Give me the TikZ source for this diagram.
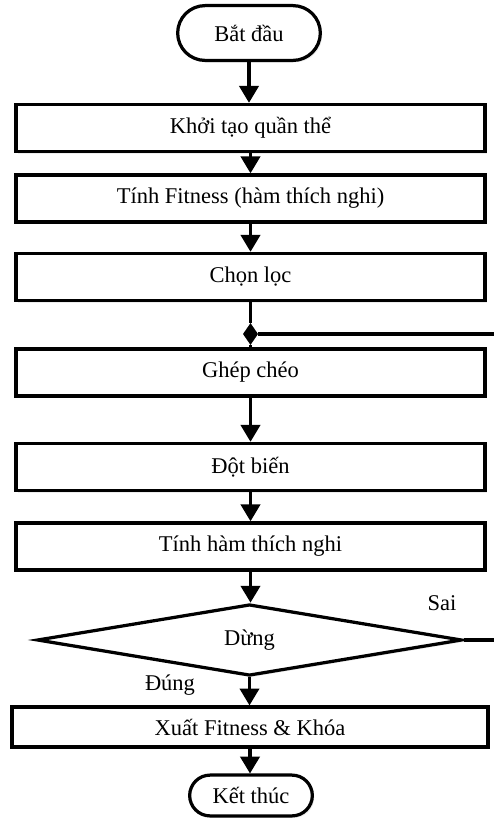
\documentclass[tikz,border=0pt]{standalone}
\usepackage{fontspec}
\setmainfont{Liberation Serif}
\usetikzlibrary{shapes,positioning,arrows.meta,shadows}

\tikzset{
  bong/.style={drop shadow={shadow xshift=1.4pt, shadow yshift=-1.4pt, opacity=0.15}},
  buoc/.style={draw, line width=2.3pt, fill=white, bong, minimum width=11.72cm, minimum height=1.18cm},
  tron/.style={draw, line width=2.3pt, fill=white, bong, rounded rectangle},
  hoi/.style={draw, line width=2.3pt, fill=white, bong, diamond, inner sep=0pt, minimum width=10.62cm, minimum height=1.75cm},
  muiten/.style={-{Triangle[length=4.2mm,width=4.8mm]}, line width=2.3pt},
  duong/.style={line width=2.3pt},
  moc/.style={diamond, fill=black, inner sep=0pt, minimum width=0.38cm, minimum height=0.55cm}
}

\begin{document}
\begin{tikzpicture}[x=0.025cm, y=-0.025cm, font=\fontsize{16}{18}\selectfont]
\clip (0,0) rectangle (494,818);
\node[tron, minimum width=3.8cm, minimum height=1.37cm] (batdau) at (249,33) {Bắt đầu};
\foreach \y/\ten/\chu in {128/khoitao/{Khởi tạo quần thể}, 198.5/fitness/{Tính Fitness (hàm thích nghi)}, 277/chonloc/{Chọn lọc}, 372.5/ghepcheo/{Ghép chéo}, 467/dotbien/{Đột biến}, 546.5/tinhham/{Tính hàm thích nghi}}
  {\node[buoc] (\ten) at (250.5,\y) {\chu};}
\node[hoi] (dung) at (249.5,640) {Dừng};
\node[buoc, minimum width=11.9cm, minimum height=1cm] (xuat) at (250,727) {Xuất Fitness \& Khóa};
\node[tron, minimum width=3.3cm, minimum height=1.02cm] (ketthuc) at (251,795.5) {Kết thúc};

% noi vong lap
\node[moc] (giao) at (250.5,334) {};
\coordinate (vong) at (505,334);

\foreach \a/\b in {batdau/khoitao, khoitao/fitness, fitness/chonloc, ghepcheo/dotbien, dotbien/tinhham, tinhham/dung, dung/xuat, xuat/ketthuc}
  {\draw[muiten] (\a.south) -- (\a.south |- \b.north);}
\draw[duong] (chonloc.south) -- (giao);
\draw[duong] (giao) -- (giao |- ghepcheo.north);
\draw[duong] (dung.east) -- (dung.east -| vong) -- (vong) -- (giao);

\node (sai) at (442,603) {Sai};
\node (dung_nhan) at (170,685) {Đúng};
\end{tikzpicture}
\end{document}
